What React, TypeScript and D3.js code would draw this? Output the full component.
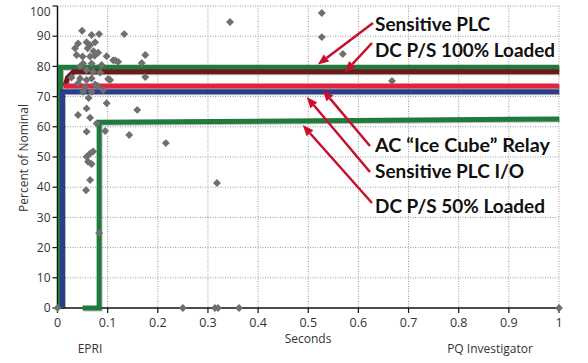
import React from "react";
import * as d3 from "d3";

const xTicks = [0, 0.1, 0.2, 0.3, 0.4, 0.5, 0.6, 0.7, 0.8, 0.9, 1];
const yTicks = [0, 10, 20, 30, 40, 50, 60, 70, 80, 90, 100];

// Event scatter points [seconds, percent of nominal]
const points: [number, number][] = [
  [0.049, 91.8], [0.068, 90.4], [0.083, 90.7], [0.058, 88], [0.041, 87.6], [0.035, 86],
  [0.065, 87], [0.081, 84.5], [0.098, 83.4], [0.111, 82], [0.121, 81.5], [0.038, 83.8],
  [0.05, 83.3], [0.065, 83.3], [0.051, 81], [0.068, 81], [0.058, 78.8], [0.071, 78.2],
  [0.045, 80], [0.028, 76.3], [0.045, 76], [0.058, 75.5], [0.068, 76], [0.101, 75.8],
  [0.041, 74.4], [0.051, 71.6], [0.068, 71.6], [0.091, 72.2], [0.098, 67.8], [0.058, 66.1],
  [0.041, 63.9], [0.065, 63], [0.078, 61.1], [0.058, 58.4], [0.095, 58.6], [0.058, 50.1],
  [0.065, 51.2], [0.071, 51.8], [0.061, 48.4], [0.068, 47.7], [0.065, 42.4], [0.057, 39],
  [0.083, 24.8], [0.06, 86], [0.075, 88], [0.072, 85], [0.075, 74], [0.085, 78],
  [0.08, 73.5], [0.055, 73], [0.088, 80.5], [0.062, 69.5], [0.074, 83.5],
  [0.133, 90.7], [0.175, 83.8], [0.168, 81.1], [0.175, 76.5], [0.159, 65.6], [0.143, 57.3],
  [0.216, 54.6], [0.105, 75.5], [0.115, 82], [0.344, 94.7], [0.527, 97.7], [0.527, 89.7],
  [0.569, 84.1], [0.667, 75.2], [0.318, 41.4],
  [0, 0], [0.25, 0], [0.314, 0], [0.32, 0], [0.362, 0], [1, 0],
];

// Ride-through curves
const sensitivePLC: [number, number][] = [[0.006, 0], [0.006, 79.7], [1, 79.7]];
const dc100: [number, number][] = [[0.015, 73.5], [0.02, 76.3], [0.032, 78.2], [1, 78.2]];
const acRelay: [number, number][] = [[0.012, 73.5], [1, 73.5]];
const plcIO: [number, number][] = [[0.01, 0], [0.01, 71.6], [1, 71.6]];
const dc50: [number, number][] = [[0.05, 0], [0.083, 0], [0.083, 61.5], [1, 62.6]];

const curves = [
  { data: sensitivePLC, color: "#1f7a3c" },
  { data: dc100, color: "#6a1a1c" },
  { data: acRelay, color: "#e3223c" },
  { data: plcIO, color: "#283e8c" },
  { data: dc50, color: "#1f7a3c" },
];

// Annotation labels and arrow tip positions (data units)
const labels = ["Sensitive PLC", "DC P/S 100% Loaded", "AC \u201cIce Cube\u201d Relay", "Sensitive PLC I/O", "DC P/S 50% Loaded"];
const tipX = [0.519, 0.573, 0.529, 0.497, 0.489];
const tipY = [80.6, 78.1, 72.2, 69.9, 60.6];

export default function App() {
  const W = 588, H = 363;
  const x = d3.scaleLinear().domain([0, 1]).range([57.5, 559]);
  const y = d3.scaleLinear().domain([0, 100]).range([308, 6]);
  const line = d3.line<[number, number]>().x((d) => x(d[0])).y((d) => y(d[1]));
  const font = "'Open Sans', 'DejaVu Sans', sans-serif";

  const labelX = 375;
  const labelBase = [31, 57, 152, 178, 213];
  const labelLen = [115, 180, 175, 149, 170];
  const tails: [number, number][] = [[373, 23], [372, 43], [370, 146], [370, 172], [372, 203]];

  return (
    <svg width={W} height={H} style={{ position: "absolute", left: 0, top: 0, background: "#fff" }}>
      <rect x={0} y={0} width={W} height={H} fill="#fff" />
      {/* grid */}
      {xTicks.filter((t) => t > 0).map((t) => (
        <line key={"gx" + t} x1={x(t)} x2={x(t)} y1={y(100)} y2={y(0)} stroke="#9a9a9a" strokeWidth={1} strokeDasharray="1,1.5" />
      ))}
      {yTicks.filter((t) => t > 0).map((t) => (
        <line key={"gy" + t} x1={x(0)} x2={x(1)} y1={y(t)} y2={y(t)} stroke="#9a9a9a" strokeWidth={1} strokeDasharray="1,1.5" />
      ))}
      {/* axes */}
      <line x1={x(0)} x2={x(0)} y1={y(100)} y2={y(0)} stroke="#111" strokeWidth={1.5} />
      <line x1={x(0)} x2={x(1)} y1={y(0)} y2={y(0)} stroke="#111" strokeWidth={1.5} />
      {yTicks.map((t) => (
        <g key={"yt" + t}>
          <line x1={x(0) - 5} x2={x(0)} y1={y(t)} y2={y(t)} stroke="#111" strokeWidth={1.2} />
          <text x={x(0) - 7} y={t === 100 ? y(t) + 5.5 : y(t)} dy="0.35em" textAnchor="end" fontFamily={font} fontSize={12} fill="#333">{t}</text>
        </g>
      ))}
      {xTicks.map((t) => (
        <g key={"xt" + t}>
          <line x1={x(t)} x2={x(t)} y1={y(0)} y2={y(0) + 5} stroke="#111" strokeWidth={1.2} />
          <text x={x(t)} y={327} textAnchor="middle" fontFamily={font} fontSize={12.5} fill="#333">{d3.format("")(t)}</text>
        </g>
      ))}
      <text x={308} y={343} textAnchor="middle" fontFamily={font} fontSize={12} fill="#333">Seconds</text>
      <text x={90} y={353} textAnchor="middle" fontFamily={font} fontSize={12} fill="#333">EPRI</text>
      <text x={490} y={353} textAnchor="middle" fontFamily={font} fontSize={12} fill="#333">PQ Investigator</text>
      <text transform="translate(24,158) rotate(-90)" textAnchor="middle" dy="0.35em" fontFamily={font} fontSize={12} fill="#333">Percent of Nominal</text>

      {/* curves */}
      {curves.map((c, i) => (
        <path key={"s" + i} d={line(c.data) || ""} fill="none" stroke="#000" strokeOpacity={0.25} strokeWidth={5} transform="translate(1,1)" />
      ))}
      {curves.map((c, i) => (
        <path key={"c" + i} d={line(c.data) || ""} fill="none" stroke={c.color} strokeWidth={5} strokeLinejoin="miter" />
      ))}

      {/* points */}
      {points.map((p, i) => (
        <rect key={"p" + i} x={-2.8} y={-2.8} width={5.6} height={5.6} fill="#6f6f6f"
          transform={`translate(${x(p[0])},${y(p[1])}) rotate(45)`} />
      ))}

      {/* annotations */}
      {labels.map((l, i) => {
        const tx = x(tipX[i]), ty = y(tipY[i]);
        const [sx, sy] = tails[i];
        const ang = Math.atan2(ty - sy, tx - sx);
        const hl = 11, hw = 4.5;
        const bx = tx - hl * Math.cos(ang), by = ty - hl * Math.sin(ang);
        const px = -Math.sin(ang) * hw, py = Math.cos(ang) * hw;
        return (
          <g key={"a" + i}>
            <line x1={sx} y1={sy} x2={bx} y2={by} stroke="#c8102e" strokeWidth={2.5} />
            <polygon points={`${tx},${ty} ${bx + px},${by + py} ${bx - px},${by - py}`} fill="#c8102e" />
            <text x={labelX} y={labelBase[i]} textLength={labelLen[i]} lengthAdjust="spacingAndGlyphs"
              fontFamily="Lato, 'Open Sans', sans-serif" fontWeight="bold" fontSize={18.5} fill="#111">{l}</text>
          </g>
        );
      })}
    </svg>
  );
}
